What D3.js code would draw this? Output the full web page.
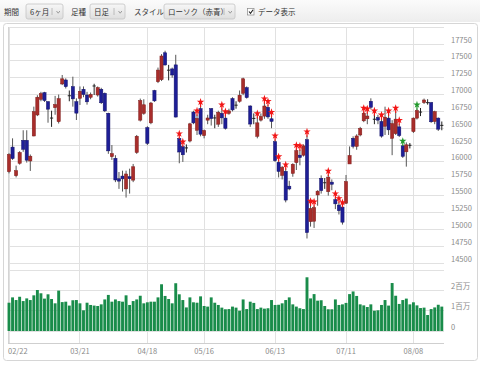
<!DOCTYPE html>
<html>
<head>
<meta charset="utf-8">
<style>
  body { margin: 0; background: #fff; }
  svg { display: block; font-family: "Noto Sans CJK JP", "Noto Sans", sans-serif; }
</style>
</head>
<body>
<svg width="480" height="365"></svg>
<script src="https://d3js.org/d3.v7.min.js"></script>
<script>
// trading days shown (6 months of daily candles)
const dates = [
  "02/22","02/23","02/24","02/25","02/26","02/29",
  "03/01","03/02","03/03","03/04","03/07","03/08","03/09","03/10","03/11","03/14","03/15","03/16","03/17","03/18",
  "03/22","03/23","03/24","03/25","03/28","03/29","03/30","03/31",
  "04/01","04/04","04/05","04/06","04/07","04/08","04/11","04/12","04/13","04/14","04/15","04/18","04/19","04/20",
  "04/21","04/22","04/25","04/26","04/27","04/28",
  "05/02","05/06","05/09","05/10","05/11","05/12","05/13","05/16","05/17","05/18","05/19","05/20","05/23","05/24",
  "05/25","05/26","05/27","05/30","05/31",
  "06/01","06/02","06/03","06/06","06/07","06/08","06/09","06/10","06/13","06/14","06/15","06/16","06/17","06/20",
  "06/21","06/22","06/23","06/24","06/27","06/28","06/29","06/30",
  "07/01","07/04","07/05","07/06","07/07","07/08","07/11","07/12","07/13","07/14","07/15","07/19","07/20","07/21",
  "07/22","07/25","07/26","07/27","07/28","07/29",
  "08/01","08/02","08/03","08/04","08/05","08/08","08/09","08/10","08/12","08/15","08/16","08/17","08/18","08/19"
];

const opens = [
  15855,16220,15795,15980,16320,16320,
  16014,16385,16697,16929,17028,16894,16660,16805,16597,17157,17216,16990,17117,16894,
  16944,17078,16993,16959,17120,16993,17078,17018,
  16722,16078,16054,15750,15790,15600,15780,15730,16140,16620,16720,16510,16580,17060,
  17190,17220,17620,17370,17380,17440,
  16350,16226,16200,16310,16740,16470,16790,16390,16620,16790,16660,16560,16720,16650,
  16720,16940,16850,16900,17018,
  17102,16830,16650,16380,16620,16680,16810,16640,16300,15994,15800,15860,15640,15830,
  15990,16100,16100,16330,15114,15120,15510,15757,
  15700,15558,15700,15440,15360,15330,15386,15970,16351,16231,16400,16610,16640,16900,
  16640,16660,16600,16530,16650,16350,
  16420,16520,16240,16150,16240,16450,16650,16745,16880,16890,16880,16600,16650,16540
];

const highs = [
  16130,16350,15945,16160,16470,16470,
  16110,16820,16990,17040,17040,16900,16760,16980,17000,17290,17240,17060,17265,16944,
  17120,17120,17040,17030,17160,17120,17100,17030,
  16730,16250,16100,15850,15870,15870,15900,15970,16400,16940,16930,16530,16890,17070,
  17400,17600,17650,17440,17400,17590,
  16360,16240,16260,16580,16760,16700,16830,16480,16700,16800,16700,16760,16790,16690,
  16790,16960,16900,17060,17250,
  17120,16840,16720,16660,16720,16880,16840,16680,16330,16020,15940,15900,15720,15980,
  16190,16180,16260,16390,15360,15350,15580,15800,
  15760,15806,15740,15470,15400,15340,15806,16230,16380,16410,16520,16740,16730,16944,
  16700,16700,16640,16820,16700,16620,
  16740,16560,16250,16290,16280,16660,16790,16800,16940,16930,16890,16760,16660,16600
];

const lows = [
  15830,16030,15770,15960,16150,15990,
  15866,16380,16680,16900,16890,16582,16520,16700,16570,17140,17090,16900,16820,16622,
  16845,16960,16850,16930,16993,16970,16860,16740,
  16120,16030,15700,15600,15560,15471,15530,15700,16120,16600,16700,16250,16560,16890,
  17170,17200,17430,17210,17250,16660,
  15980,16000,16140,16290,16560,16400,16380,16350,16560,16540,16500,16520,16560,16480,
  16700,16750,16790,16880,16990,
  16940,16520,16560,16350,16600,16640,16640,16500,16000,15770,15740,15400,15580,15780,
  15880,15950,16080,14864,15040,15020,15350,15530,
  15600,15500,15580,15300,15220,15070,15380,16020,16200,16180,16380,16590,16560,16780,
  16560,16560,16360,16400,16400,16100,
  16400,16370,16060,15930,16200,16430,16630,16680,16860,16850,16580,16560,16460,16470
];

const closes = [
  16111,16050,15870,16140,16188,16026,
  16085,16746,16960,17014,16911,16783,16642,16852,16938,17233,17117,16974,16936,16724,
  17048,17000,16892,17002,17134,17103,16878,16758,
  16164,16123,15732,15715,15749,15821,15751,15928,16381,16911,16848,16275,16874,16906,
  17363,17572,17439,17353,17290,16666,
  16147,16106,16216,16565,16579,16646,16412,16466,16652,16644,16646,16736,16654,16498,
  16757,16772,16834,16990,17234,
  16955,16562,16642,16580,16675,16830,16668,16601,16019,15859,15919,15434,15599,15965,
  16169,16065,16238,14952,15309,15323,15566,15575,
  15682,15775,15669,15378,15276,15106,15708,16095,16231,16385,16497,16723,16681,16810,
  16627,16620,16383,16664,16476,16569,
  16635,16391,16083,16254,16254,16650,16764,16735,16919,16869,16596,16745,16486,16545
];

// volume, millions
const volumes = [
  1.38,1.64,1.51,1.67,1.46,1.59,
  1.51,1.74,2.00,1.84,1.58,1.79,1.56,1.35,1.97,1.41,1.43,1.24,1.50,1.51,
  1.35,1.01,1.38,1.27,1.24,1.22,1.30,1.54,
  1.76,1.43,1.54,1.46,1.43,1.74,1.27,1.46,1.54,1.72,1.35,1.40,1.43,1.43,
  1.64,2.28,1.71,1.56,1.35,2.33,
  1.79,1.51,1.15,1.64,1.40,1.38,1.69,1.22,1.19,1.64,1.38,1.27,1.14,1.06,
  1.07,1.19,1.14,0.99,1.54,
  1.07,1.43,1.37,1.07,1.14,1.09,1.11,1.51,1.27,1.28,1.35,1.51,1.64,1.30,
  1.19,1.11,1.07,2.62,1.59,1.80,1.48,1.50,
  1.22,1.06,1.06,1.54,1.27,1.30,1.37,1.80,1.93,1.71,1.30,1.25,1.17,1.30,
  0.99,1.01,1.27,1.51,1.24,2.34,
  1.72,1.32,1.51,1.58,1.30,1.40,1.25,1.12,1.14,0.78,1.07,1.15,1.28,1.19
];

const redMarks = ["05/02","05/06","05/12","05/13","05/23","05/24","06/06","06/08","06/09","06/10",
  "06/13","06/14","06/16","06/21","06/22","06/24","06/27","06/28","07/04","07/06","07/07","07/08",
  "07/19","07/20","07/22","07/26","07/28","08/01","08/02"];
const greenMarks = ["08/03","08/09"];

const dateTicks = ["02/22","03/21","04/18","05/16","06/13","07/11","08/08"];
const priceTicks = [17750,17500,17250,17000,16750,16500,16250,16000,15750,15500,15250,15000,14750,14500];
const volumeTicks = [0, 1, 2];
const volumeTickLabels = ["0", "1百万", "2百万"];

const svg = d3.select("svg");

// ---- toolbar ----
const defs = svg.append("defs");
const tg = defs.append("linearGradient").attr("id", "tb").attr("x1", 0).attr("x2", 0).attr("y1", 0).attr("y2", 1);
tg.append("stop").attr("offset", "0%").attr("stop-color", "#fbfbfb");
tg.append("stop").attr("offset", "100%").attr("stop-color", "#ededed");
const bg = defs.append("linearGradient").attr("id", "btn").attr("x1", 0).attr("x2", 0).attr("y1", 0).attr("y2", 1);
bg.append("stop").attr("offset", "0%").attr("stop-color", "#f7f7f7");
bg.append("stop").attr("offset", "100%").attr("stop-color", "#dedede");

svg.append("rect").attr("x", 0).attr("y", 0).attr("width", 480).attr("height", 22).attr("fill", "url(#tb)");

const toolbar = svg.append("g").attr("font-size", "7.5px").attr("fill", "#333");
toolbar.append("text").attr("x", 4).attr("y", 15).text("期間");
toolbar.append("text").attr("x", 71).attr("y", 15).text("足種");
toolbar.append("text").attr("x", 134).attr("y", 15).text("スタイル");

const selects = [
  { x: 26, w: 37, label: "6ヶ月" },
  { x: 90, w: 35, label: "日足" },
  { x: 164, w: 71, label: "ローソク（赤青）" }
];
selects.forEach(s => {
  const g = toolbar.append("g").attr("transform", `translate(${s.x},4)`);
  g.append("rect").attr("width", s.w).attr("height", 15).attr("rx", 2)
    .attr("fill", "url(#btn)").attr("stroke", "#c4c4c4").attr("stroke-width", 0.8);
  g.append("text").attr("x", 4).attr("y", 11).text(s.label);
  g.append("line").attr("x1", s.w - 11).attr("x2", s.w - 11).attr("y1", 4).attr("y2", 11)
    .attr("stroke", "#b0b0b0").attr("stroke-width", 0.8);
  g.append("path").attr("d", `M${s.w - 6.5},7 l1.7,2.2 l1.7,-2.2`).attr("fill", "none")
    .attr("stroke", "#888").attr("stroke-width", 0.8);
});
toolbar.append("rect").attr("x", 247.5).attr("y", 8.5).attr("width", 6.5).attr("height", 6.5)
  .attr("fill", "#fff").attr("stroke", "#888").attr("stroke-width", 0.7);
toolbar.append("path").attr("d", "M249,11.5 l1.5,1.8 l2.6,-3.6").attr("fill", "none")
  .attr("stroke", "#222").attr("stroke-width", 1.1);
toolbar.append("text").attr("x", 258).attr("y", 15).text("データ表示");

// ---- chart panel ----
svg.append("rect").attr("x", 3.5).attr("y", 23.5).attr("width", 474).attr("height", 337).attr("rx", 3)
  .attr("fill", "#fff").attr("stroke", "#d6d6d6");

const left = 8, right = 444;
const x = d3.scalePoint().domain(dates).range([9, 441.8]);
const y = d3.scaleLinear().domain([14500, 17750]).range([263, 44]);
const yv = d3.scaleLinear().domain([0, 2]).range([331, 290]);

const grid = svg.append("g").attr("stroke", "#e1e1e1").attr("stroke-width", 1).attr("shape-rendering", "crispEdges");
priceTicks.forEach(v => grid.append("line").attr("x1", left).attr("x2", right).attr("y1", y(v)).attr("y2", y(v)));
volumeTicks.forEach(v => grid.append("line").attr("x1", left).attr("x2", right).attr("y1", yv(v)).attr("y2", yv(v)));
grid.append("line").attr("x1", left).attr("x2", right).attr("y1", 27).attr("y2", 27);
grid.append("line").attr("x1", left).attr("x2", right).attr("y1", 270).attr("y2", 270);

const tickX = t => x(dates.find(d => d >= t));
dateTicks.forEach(t => grid.append("line").attr("x1", tickX(t)).attr("x2", tickX(t)).attr("y1", 27).attr("y2", 343));
grid.append("line").attr("x1", left).attr("x2", left).attr("y1", 27).attr("y2", 343).attr("stroke", "#d4d4d4");
grid.append("line").attr("x1", left).attr("x2", right).attr("y1", 343).attr("y2", 343).attr("stroke", "#cfcfcf");

// axis labels
const labels = svg.append("g").attr("font-size", "7.5px").attr("fill", "#8a8a8a");
priceTicks.forEach(v => labels.append("text").attr("x", 451).attr("y", y(v) - 1.5).text(v));
volumeTicks.forEach((v, i) => labels.append("text").attr("x", 451).attr("y", yv(v) - 1.5).text(volumeTickLabels[i]));
dateTicks.forEach((t, i) => labels.append("text")
  .attr("x", i === 0 ? left : tickX(t))
  .attr("y", 354)
  .attr("text-anchor", i === 0 ? "start" : "middle")
  .text(t));

// ---- volume bars ----
svg.append("g").selectAll("rect")
  .data(dates)
  .join("rect")
  .attr("x", d => x(d) - 1.45)
  .attr("width", 2.9)
  .attr("y", (d, i) => yv(volumes[i]))
  .attr("height", (d, i) => yv(0) - yv(volumes[i]))
  .attr("fill", "#198c4a");

// ---- candles ----
const candles = svg.append("g").selectAll("g")
  .data(dates)
  .join("g")
  .attr("transform", d => `translate(${x(d)},0)`);

const isDoji = i => Math.abs(closes[i] - opens[i]) < 25;
const colorOf = i => isDoji(i) ? "#222" : (closes[i] > opens[i] ? "#a82d2b" : "#1e1e96");
const strokeOf = i => isDoji(i) ? "#222" : (closes[i] > opens[i] ? "#7e1c1a" : "#121268");

candles.append("line")
  .attr("y1", (d, i) => y(highs[i]))
  .attr("y2", (d, i) => y(lows[i]))
  .attr("stroke", (d, i) => isDoji(i) ? "#222" : "#555")
  .attr("stroke-width", 1);

candles.append("rect")
  .attr("x", -1.6)
  .attr("width", 3.2)
  .attr("y", (d, i) => isDoji(i) ? y((opens[i] + closes[i]) / 2) - 0.5 : y(Math.max(opens[i], closes[i])))
  .attr("height", (d, i) => isDoji(i) ? 1 : Math.max(1, Math.abs(y(opens[i]) - y(closes[i]))))
  .attr("fill", (d, i) => colorOf(i))
  .attr("stroke", (d, i) => isDoji(i) ? "none" : strokeOf(i))
  .attr("stroke-width", 0.5);

// ---- signal marks ----
function drawMarks(list, color) {
  const g = svg.append("g");
  list.forEach(dt => {
    const i = dates.indexOf(dt);
    const cy = y(highs[i]) - 4;
    g.append("line").attr("x1", x(dt)).attr("x2", x(dt)).attr("y1", cy).attr("y2", cy + 5)
      .attr("stroke", color).attr("stroke-width", 1.2);
    g.append("path").attr("d", d3.symbol(d3.symbolStar, 17)())
      .attr("transform", `translate(${x(dt)},${cy})`)
      .attr("fill", color);
  });
}
drawMarks(redMarks, "#f21616");
drawMarks(greenMarks, "#22992c");
</script>
</body>
</html>
